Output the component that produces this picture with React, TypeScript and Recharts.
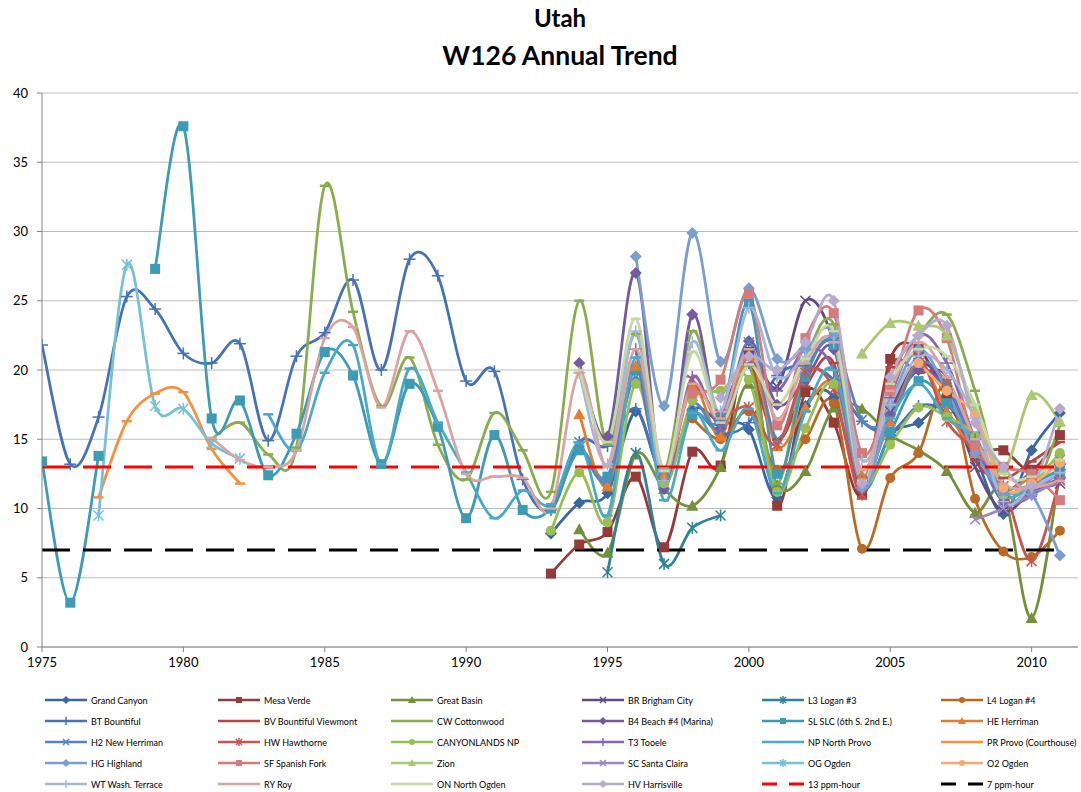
import React from "react";
import { LineChart, Line, XAxis, YAxis, CartesianGrid } from "recharts";

const years = [
  1975, 1976, 1977, 1978, 1979, 1980, 1981, 1982, 1983, 1984, 1985, 1986, 1987,
  1988, 1989, 1990, 1991, 1992, 1993, 1994, 1995, 1996, 1997, 1998, 1999, 2000,
  2001, 2002, 2003, 2004, 2005, 2006, 2007, 2008, 2009, 2010, 2011,
];

// values per site, first value belongs to the site's start year
const grandCanyon = [8.2, 10.4, 11.1, 17.0, 12.3, 17.1, 16.2, 15.7, 10.8, 17.4, 18.0, 11.3, 15.3, 16.2, 17.5, 13.8, 9.6, 14.2, 16.9];
const mesaVerde = [5.3, 7.4, 8.3, 12.3, 7.2, 14.1, 13.1, 21.3, 10.2, 18.4, 16.2, 11.0, 20.8, 21.5, 18.0, 14.5, 14.2, 12.8, 15.3];
const greatBasin = [8.5, 6.8, 13.9, 11.4, 10.2, 13.0, 19.0, 11.7, 12.7, 17.3, 17.2, 15.3, 14.2, 12.7, 9.7, 11.2, 2.1, 12.6];
const brighamCity = [16.5, 21.0, 18.8, 25.0, 22.0, 12.0, 17.0, 20.5, 18.5, 13.0, 9.8, 11.2, 11.8];
const logan3 = [5.4, 14.0, 6.0, 8.6, 9.5];
const logan4 = [16.5, 15.0, 17.0, 12.8, 15.0, 17.6, 7.1, 12.2, 14.0, 19.0, 10.7, 6.9, 6.5, 8.4];
const bountiful = [21.8, 13.2, 16.6, 25.3, 24.4, 21.2, 20.5, 21.9, 14.9, 21.0, 22.7, 26.5, 20.0, 28.0, 26.8, 19.2, 19.9, 12.1, 9.9, 14.8, 14.5, 17.2, 12.3, 16.8, 15.4, 16.2, 19.6, 20.3, 19.3, 16.3, 15.5, 17.4, 16.9, 14.0, 11.3, 12.6, 13.2];
const bountifulViewmont = [21.0, 15.0, 18.8, 20.5, 10.8, 20.2, 19.8, 19.5, 13.5, 12.2, 13.4, 14.8];
const cottonwood = [15.0, 16.2, 13.9, 14.4, 33.3, 24.2, 17.4, 20.9, 14.6, 12.1, 16.9, 14.2, 11.2, 25.0, 14.6, 22.6, 12.9, 22.8, 16.5, 20.3, 11.8, 20.5, 23.3, 12.3, 19.5, 22.5, 24.0, 18.5, 11.5, 11.0, 16.0];
const beach4 = [20.5, 15.2, 27.0, 11.4, 24.0, 15.8, 22.1, 17.5, 19.3, 21.5, 12.2, 16.8, 20.0, 18.6, 14.6, 10.5, 11.2, 12.2];
const slc = [13.4, 3.2, 13.8, null, 27.3, 37.6, 16.5, 17.8, 12.4, 15.4, 21.3, 19.6, 13.2, 19.0, 15.9, 9.3, 15.3, 9.9, 10.0, 14.2, 12.3, 20.0, 12.6, 16.8, 16.5, 24.8, 12.5, 19.5, 21.8, 11.6, 15.5, 19.2, 17.6, 15.2, 11.3, 11.8, 12.8];
const herriman = [16.8, 11.6, 20.3, 12.4, 18.8, 15.2, 21.0, 14.5, 17.3, 19.0, 12.4, 16.3, 20.5, 17.0, 14.0, 11.4, 12.3, 13.6];
const newHerriman = [14.8, 12.0, 19.5, 11.8, 17.5, 15.8, 22.0, 15.0, 20.0, 22.0, 16.4, 16.5, 20.5, 19.0, 14.5, 10.5, 11.5, 13.5];
const hawthorne = [19.3, 16.8, 17.3, 14.6, 19.8, 18.6, 11.0, 18.8, 21.0, 16.3, 14.2, 11.6, 6.2, 12.1];
const canyonlands = [8.4, 12.6, 9.0, 19.0, 11.8, 17.8, 18.5, 19.3, 11.2, 15.8, 19.0, 11.8, 14.6, 17.3, 16.6, 15.2, 11.0, 11.8, 14.0];
const tooele = [21.5, 12.0, 19.5, 16.0, 20.5, 18.5, 21.5, 20.0, 12.0, 18.0, 22.5, 20.5, 15.0, 10.5, 11.0, 12.8];
const northProvo = [16.8, 14.2, 19.8, 21.8, 13.2, 20.1, 16.2, 12.6, 9.3, 11.3, 10.3, 14.7, 9.5, 20.9, 10.6, 16.9, 14.2, 17.2, 11.1, 17.0, 20.0, 12.0, 16.5, 19.0, 16.5, 15.0, 11.0, 11.5, 12.5];
const provo = [10.8, 16.3, 18.3, 18.4, 14.3, 11.8];
const highland = [28.2, 17.4, 29.9, 20.6, 25.9, 20.8, 21.5, 22.5, 11.5, 17.5, 21.5, 18.5, 14.0, 11.2, 11.0, 6.6];
const spanishFork = [18.3, 19.3, 25.5, 16.0, 22.3, 24.1, 14.0, 18.5, 24.3, 22.3, 14.5, 13.0, 12.5, 10.6];
const zion = [21.2, 23.4, 23.2, 22.5, 17.0, 12.8, 18.2, 16.3];
const santaClaira = [9.2, 10.0, 11.0, 12.0];
const ogden = [9.5, 27.6, 17.4, 17.2, 14.7, 13.6];
const ogden2 = [20.5, 18.5, 16.7, 11.5, 11.8, 13.3];
const washTerrace = [19.8, 13.2, 22.8, 12.0, 22.0, 17.0, 24.5, 19.5, 21.0, 22.0, 13.5, 17.5, 21.0, 20.0, 16.5, 10.5, 11.5, 12.6];
const roy = [15.1, 13.5, 13.0, 14.2, 22.3, 23.1, 17.3, 22.8, 18.5, 12.5, 12.3, 12.2, 10.0, 19.8, 13.0, 21.5, 12.8, 19.0, 16.5, 21.5, 16.5, 20.5, 22.0, 12.8, 18.5, 22.0, 19.5, 15.0, 11.8, 11.5, 12.0];
const northOgden = [20.0, 14.8, 23.7, 12.7, 21.3, 16.2, 20.4, 17.5, 20.8, 22.8, 12.0, 19.0, 21.5, 21.0, 17.5, 12.5, 12.3, 13.5];
const harrisville = [18.0, 21.0, 20.0, 22.0, 25.0, 11.8, 19.5, 22.5, 23.2, 16.2, 13.0, 11.6, 17.2];
const ppm13 = 13;
const ppm7 = 7;

const seriesNames = [
  "Grand Canyon", "Mesa Verde", "Great Basin", "BR Brigham City", "L3 Logan #3", "L4 Logan #4",
  "BT Bountiful", "BV Bountiful Viewmont", "CW Cottonwood", "B4 Beach #4 (Marina)", "SL SLC (6th S. 2nd E.)", "HE Herriman",
  "H2 New Herriman", "HW Hawthorne", "CANYONLANDS NP", "T3 Tooele", "NP North Provo", "PR Provo (Courthouse)",
  "HG Highland", "SF Spanish Fork", "Zion", "SC Santa Claira", "OG Ogden", "O2 Ogden",
  "WT Wash. Terrace", "RY Roy", "ON North Ogden", "HV Harrisville",
];
const seriesValues = [
  grandCanyon, mesaVerde, greatBasin, brighamCity, logan3, logan4,
  bountiful, bountifulViewmont, cottonwood, beach4, slc, herriman,
  newHerriman, hawthorne, canyonlands, tooele, northProvo, provo,
  highland, spanishFork, zion, santaClaira, ogden, ogden2,
  washTerrace, roy, northOgden, harrisville,
];
const startYears = [
  1993, 1993, 1994, 1999, 1995, 1998,
  1975, 2000, 1981, 1994, 1975, 1994,
  1994, 1998, 1993, 1996, 1983, 1977,
  1996, 1998, 2004, 2008, 1977, 2006,
  1994, 1981, 1994, 1999,
];

const colors = [
  "#3b66a2", "#943a38", "#73913b", "#604a7e", "#2f8399", "#bb6a26",
  "#4673b5", "#b84441", "#89ad4d", "#7458a0", "#3d9bb5", "#e27e30",
  "#5584c5", "#c95552", "#98be55", "#8766b0", "#4aaac5", "#f3923f",
  "#7b9ed1", "#d57c7a", "#abc973", "#9c86bf", "#76c1d7", "#f8a96b",
  "#a4b7dc", "#dca3a1", "#c5d9a5", "#b8aace",
];
const markers = [
  "diamond", "square", "triangle", "x", "star", "circle",
  "plus", "dash", "dash", "diamond", "square", "triangle",
  "x", "star", "circle", "plus", "dash", "dash",
  "diamond", "square", "triangle", "x", "star", "circle",
  "plus", "dash", "dash", "diamond",
];

const data = years.map((year) => {
  const row: Record<string, number | null> = { year, ppm13, ppm7 };
  seriesValues.forEach((vals, i) => {
    const idx = year - startYears[i];
    const v = idx >= 0 && idx < vals.length ? vals[idx] : null;
    row["s" + i] = v;
  });
  return row;
});

// Excel style smoothing: bezier with control points at 1/6 of neighbour spans
function excelSmooth(context: any) {
  let pts: number[][] = [];
  return {
    areaStart() {},
    areaEnd() {},
    lineStart() {
      pts = [];
    },
    point(x: number, y: number) {
      pts.push([+x, +y]);
    },
    lineEnd() {
      const n = pts.length;
      if (!n) return;
      context.moveTo(pts[0][0], pts[0][1]);
      if (n === 1) {
        context.lineTo(pts[0][0], pts[0][1]);
        return;
      }
      for (let i = 0; i < n - 1; i++) {
        const p0 = pts[i > 0 ? i - 1 : i];
        const p1 = pts[i];
        const p2 = pts[i + 1];
        const p3 = pts[i + 2 < n ? i + 2 : i + 1];
        context.bezierCurveTo(
          p1[0] + (p2[0] - p0[0]) / 6,
          p1[1] + (p2[1] - p0[1]) / 6,
          p2[0] - (p3[0] - p1[0]) / 6,
          p2[1] - (p3[1] - p1[1]) / 6,
          p2[0],
          p2[1]
        );
      }
    },
  };
}

function Marker({ cx, cy, shape, color, s = 5 }: any) {
  if (cx == null || cy == null || Number.isNaN(cx) || Number.isNaN(cy)) return <g />;
  switch (shape) {
    case "diamond":
      return <polygon points={`${cx},${cy - s - 1} ${cx + s + 1},${cy} ${cx},${cy + s + 1} ${cx - s - 1},${cy}`} fill={color} />;
    case "square":
      return <rect x={cx - s} y={cy - s} width={2 * s} height={2 * s} fill={color} />;
    case "triangle":
      return <polygon points={`${cx},${cy - s - 1} ${cx + s + 1},${cy + s} ${cx - s - 1},${cy + s}`} fill={color} />;
    case "circle":
      return <circle cx={cx} cy={cy} r={s} fill={color} />;
    case "x":
      return (
        <g stroke={color} strokeWidth={1.5}>
          <line x1={cx - s} y1={cy - s} x2={cx + s} y2={cy + s} />
          <line x1={cx - s} y1={cy + s} x2={cx + s} y2={cy - s} />
        </g>
      );
    case "star":
      return (
        <g stroke={color} strokeWidth={1.5}>
          <line x1={cx - s} y1={cy - s} x2={cx + s} y2={cy + s} />
          <line x1={cx - s} y1={cy + s} x2={cx + s} y2={cy - s} />
          <line x1={cx} y1={cy - s - 1} x2={cx} y2={cy + s + 1} />
        </g>
      );
    case "plus":
      return (
        <g stroke={color} strokeWidth={1.5}>
          <line x1={cx} y1={cy - s - 1} x2={cx} y2={cy + s + 1} />
          <line x1={cx - s - 1} y1={cy} x2={cx + s + 1} y2={cy} />
        </g>
      );
    default:
      return <line x1={cx - s - 1} y1={cy} x2={cx + s + 1} y2={cy} stroke={color} strokeWidth={2.5} />;
  }
}

const legendCols = [45, 218, 391, 582, 762, 941];
const legendRows = [700, 721, 742, 763, 784];

function LegendGrid() {
  const items = seriesNames.map((name, i) => ({ name, color: colors[i], marker: markers[i] as string | null, dash: false }));
  items.push({ name: "13 ppm-hour", color: "#ff0000", marker: null, dash: true });
  items.push({ name: "7 ppm-hour", color: "#000000", marker: null, dash: true });
  return (
    <>
      {items.map((it, i) => {
        const x = legendCols[i % 6];
        const y = legendRows[Math.floor(i / 6)];
        return (
          <div key={it.name} style={{ position: "absolute", left: x, top: y - 8, height: 16, display: "flex", alignItems: "center" }}>
            <svg width={44} height={16} style={{ display: "block" }}>
              {it.dash ? (
                <g stroke={it.color} strokeWidth={3}>
                  <line x1={0} y1={8} x2={15} y2={8} />
                  <line x1={27} y1={8} x2={42} y2={8} />
                </g>
              ) : (
                <>
                  <line x1={0} y1={8} x2={42} y2={8} stroke={it.color} strokeWidth={2.5} />
                  {it.marker && it.marker !== "dash" && <Marker cx={21} cy={8} shape={it.marker} color={it.color} s={3} />}
                </>
              )}
            </svg>
            <span style={{ fontFamily: "Lato, sans-serif", fontSize: 9, color: "#000", marginLeft: 2, whiteSpace: "nowrap" }}>{it.name}</span>
          </div>
        );
      })}
    </>
  );
}

const xTicks = [1975, 1980, 1985, 1990, 1995, 2000, 2005, 2010];
const yTicks = [0, 5, 10, 15, 20, 25, 30, 35, 40];

const titleStyle: React.CSSProperties = {
  position: "absolute",
  left: 42,
  width: 1036,
  textAlign: "center",
  fontWeight: 700,
  lineHeight: "30px",
};

export default function App() {
  return (
    <div style={{ position: "absolute", left: 0, top: 0, width: 1081, height: 792, background: "#fff", fontFamily: "Lato, sans-serif" }}>
      <div style={{ ...titleStyle, top: 3, fontSize: 24 }}>Utah</div>
      <div style={{ ...titleStyle, top: 40, fontSize: 26.5 }}>W126 Annual Trend</div>
      <LineChart width={1081} height={792} data={data} margin={{ top: 93, right: 3, bottom: 120, left: 8 }}>
        <CartesianGrid vertical={false} stroke="#bcbcbc" strokeWidth={1} />
        <XAxis
          dataKey="year"
          type="number"
          domain={[1975, 2011.64]}
          ticks={xTicks}
          allowDataOverflow
          height={25}
          tickSize={5}
          tickMargin={6}
          stroke="#868686"
          tick={{ fill: "#000", fontSize: 13, fontFamily: "Lato, sans-serif" }}
        />
        <YAxis
          type="number"
          domain={[0, 40]}
          ticks={yTicks}
          width={34}
          tickSize={5}
          tickMargin={9}
          stroke="#868686"
          tick={{ fill: "#000", fontSize: 13, fontFamily: "Lato, sans-serif" }}
        />
        {seriesNames.map((name, i) => (
          <Line
            key={name}
            name={name}
            dataKey={"s" + i}
            type={excelSmooth as any}
            stroke={colors[i]}
            strokeWidth={2.75}
            connectNulls={false}
            isAnimationActive={false}
            dot={(p: any) => <Marker key={`d${i}-${p.index}`} cx={p.cx} cy={p.cy} shape={markers[i]} color={colors[i]} s={markers[i] === "dash" ? 4 : 5} />}
            activeDot={false}
          />
        ))}
        <Line dataKey="ppm13" name="13 ppm-hour" stroke="#ff0000" strokeWidth={3} strokeDasharray="28 13" dot={false} activeDot={false} isAnimationActive={false} />
        <Line dataKey="ppm7" name="7 ppm-hour" stroke="#000000" strokeWidth={3} strokeDasharray="28 13" dot={false} activeDot={false} isAnimationActive={false} />
      </LineChart>
      <LegendGrid />
    </div>
  );
}
